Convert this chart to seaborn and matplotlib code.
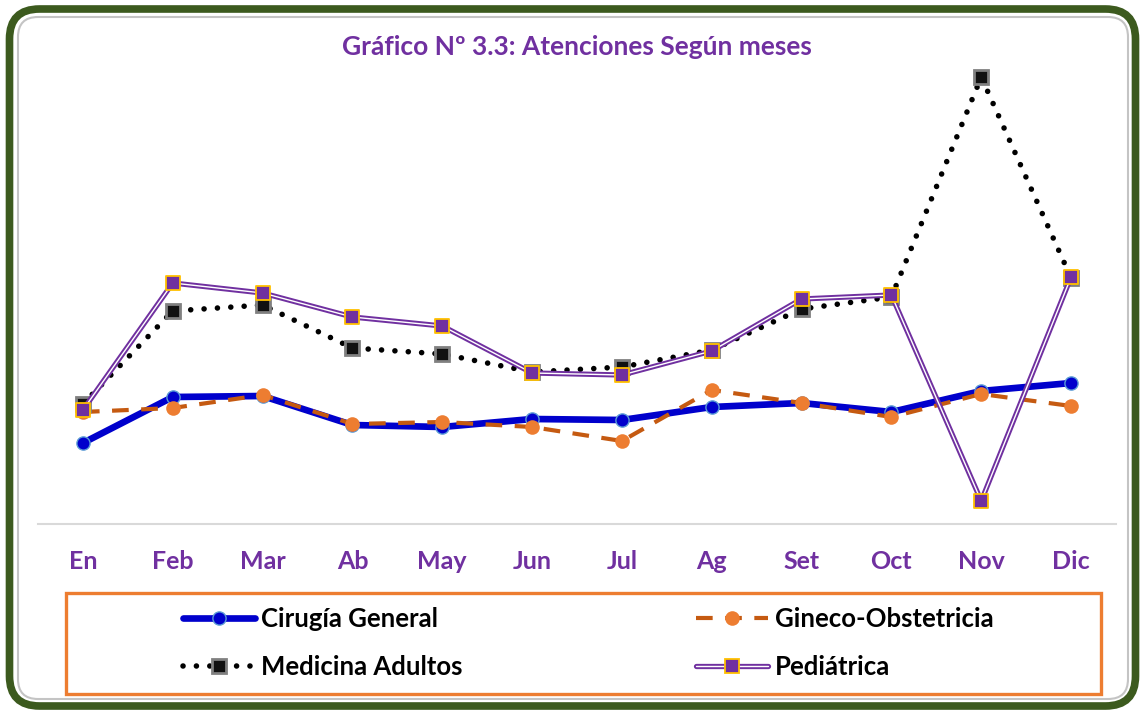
import numpy as np
import matplotlib.pyplot as plt
import pandas as pd
import seaborn as sns
from matplotlib.patches import FancyBboxPatch, Rectangle
from matplotlib.lines import Line2D
from matplotlib.legend_handler import HandlerTuple
from matplotlib.transforms import IdentityTransform

# ====================================================================
#   DATOS
# ====================================================================
meses = ['En', 'Feb', 'Mar', 'Ab', 'May', 'Jun', 'Jul', 'Ag', 'Set', 'Oct', 'Nov', 'Dic']
cirugia = [81, 127, 128, 99, 97, 105, 104, 117, 121, 112, 133, 141]
gineco = [112, 116, 129, 100, 102, 97, 83, 134, 121, 107, 130, 118]
medicina = [120, 213, 219, 176, 170, 152, 157, 174, 215, 227, 447, 246]
pediatrica = [114, 241, 231, 207, 198, 151, 149, 173, 225, 229, 23, 247]

titulo = 'Gráfico Nº 3.3: Atenciones Según meses'

PURPLE = '#7030A0'
W, H = 1142, 711

sns.set_theme(style='white')
plt.rcParams['font.family'] = ['Lato', 'DejaVu Sans']
plt.rcParams['font.weight'] = 'bold'

fig = plt.figure(figsize=(W / 100, H / 100), dpi=100)
px = IdentityTransform()

# marco verde y panel interior
fig.patches.append(FancyBboxPatch((9.5, 5), 1126, 697,
                                  boxstyle='round,pad=0,rounding_size=30',
                                  transform=px, fill=False, ec='#3C5A1E', lw=5.5))
fig.patches.append(FancyBboxPatch((18, 12), 1110, 682,
                                  boxstyle='round,pad=0,rounding_size=20',
                                  transform=px, fill=False, ec='#C4C4C4', lw=1.5))

ax = fig.add_axes([38 / W, (H - 524) / H, (1116 - 38) / W, (524 - 64) / H])
x = np.arange(len(meses))

# Cirugía General
sns.lineplot(x=x, y=cirugia, ax=ax, sort=False, color='#0000CC', lw=4.8,
             marker='o', markersize=9.5, mfc='#0000CC', mec='#5B9BD5', mew=1.0)
# Gineco-Obstetricia
sns.lineplot(x=x, y=gineco, ax=ax, sort=False, color='#C55A11', lw=3.0,
             linestyle=(0, (4, 3)), marker='o', markersize=10.5,
             mfc='#ED7D31', mec='#ED7D31', mew=0)
# Medicina Adultos
sns.lineplot(x=x, y=medicina, ax=ax, sort=False, color='black', lw=4.0,
             linestyle=(0, (0.01, 2.4)), dash_capstyle='round',
             marker='s', markersize=10.5, mfc='#111111', mec='#808080', mew=2.0)
# Pediátrica (línea doble)
sns.lineplot(x=x, y=pediatrica, ax=ax, sort=False, color=PURPLE, lw=3.8)
sns.lineplot(x=x, y=pediatrica, ax=ax, sort=False, color='white', lw=1.0)
sns.scatterplot(x=x, y=pediatrica, ax=ax, marker='s', s=95, color=PURPLE,
                edgecolor='#FFC000', linewidth=1.3, zorder=5)

ax.set_xlim(-0.5, 11.5)
ax.set_ylim(0, 460)
ax.set_yticks([])
ax.set_xticks(x)
ax.set_xticklabels(meses, color=PURPLE, fontsize=18, fontweight='bold')
ax.tick_params(axis='x', length=0, pad=19)
for side in ['top', 'left', 'right']:
    ax.spines[side].set_visible(False)
ax.spines['bottom'].set_color('#D9D9D9')
ax.spines['bottom'].set_linewidth(1.5)
ax.patch.set_alpha(0)

fig.text(577 / W, 1 - 47 / H, titulo, ha='center', va='center',
         color=PURPLE, fontsize=19, fontweight='bold')

# leyenda
fig.patches.append(Rectangle((66, H - 694), 1101 - 66, 101, transform=px,
                             fill=False, ec='#ED7D31', lw=2.4))

h_cir = Line2D([], [], color='#0000CC', lw=4.8, marker='o', markersize=9.5,
               mfc='#0000CC', mec='#5B9BD5', mew=1.0)
h_gin = Line2D([], [], color='#C55A11', lw=3.0, linestyle=(0, (4, 3)), marker='o',
               markersize=10.5, mfc='#ED7D31', mew=0)
h_med = Line2D([], [], color='black', lw=4.0, linestyle=(0, (0.01, 2.4)),
               dash_capstyle='round', marker='s', markersize=10.5,
               mfc='#111111', mec='#808080', mew=2.0)
h_ped = (Line2D([], [], color=PURPLE, lw=3.8),
         Line2D([], [], color='white', lw=1.0),
         Line2D([], [], ls='none', marker='s', markersize=10, mfc=PURPLE,
                mec='#FFC000', mew=1.3))

leg = fig.legend([h_cir, h_med, h_gin, h_ped],
                 ['Cirugía General', 'Medicina Adultos', 'Gineco-Obstetricia', 'Pediátrica'],
                 handler_map={tuple: HandlerTuple(ndivide=1, pad=0)},
                 loc='center', bbox_to_anchor=(588 / W, 1 - 643 / H), ncol=2,
                 frameon=False, fontsize=18.5, handlelength=2.8, handletextpad=0.25,
                 columnspacing=9.1, labelspacing=0.9)
for t in leg.get_texts():
    t.set_fontweight('bold')
    t.set_color('black')

fig.savefig('out.png', dpi=100)
